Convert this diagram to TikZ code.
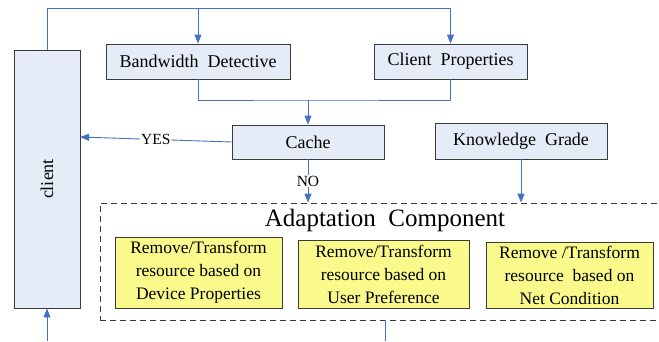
\documentclass[tikz,border=0pt]{standalone}
\usepackage{fontspec}
\setmainfont{Liberation Serif}
\newfontfamily\tnr{Liberation Serif}
\usetikzlibrary{arrows.meta}
\definecolor{lblue}{HTML}{4472C4}
\definecolor{bfill}{HTML}{E6ECF7}
\definecolor{yfill}{HTML}{FAFA8C}
\definecolor{bdr}{HTML}{3A3A3A}
\tikzset{
  bbox/.style={draw=bdr, line width=0.9pt, fill=bfill, inner sep=0pt, font=\tnr\fontsize{18}{21}\selectfont},
  ybox/.style={draw=bdr, line width=0.9pt, fill=yfill, inner sep=0pt, align=center, font=\tnr\fontsize{17.5}{23}\selectfont},
  conn/.style={draw=lblue, line width=0.9pt},
  arr/.style={conn, -{Triangle[length=9pt,width=7pt]}},
  lbl/.style={fill=white, inner sep=1pt, font=\tnr\fontsize{15.5}{17}\selectfont}
}
\begin{document}
\begin{tikzpicture}[x=1pt,y=-1pt]
\useasboundingbox (0,0) rectangle (659,341);
% nodes
\node[bbox, minimum width=66pt, minimum height=258pt] (client) at (47,179) {};
\node[rotate=90, font=\tnr\fontsize{18}{21}\selectfont] (clientlbl) at (47,179) {client};
\node[bbox, minimum width=184pt, minimum height=35pt] (bw) at (198,61.5) {Bandwidth\ \ Detective};
\node[bbox, minimum width=153pt, minimum height=35pt] (cp) at (450.5,61.5) {Client\ \ Properties};
\node[bbox, minimum width=152pt, minimum height=34pt] (cache) at (308,142) {Cache};
\node[bbox, minimum width=172pt, minimum height=36pt] (kg) at (521,141) {Knowledge\ \ Grade};
\node[draw=bdr, line width=0.8pt, dash pattern=on 6pt off 4pt, minimum width=565pt, minimum height=117pt, inner sep=0pt] (ad) at (382.5,261.5) {};
\node[font=\tnr\fontsize{25}{28}\selectfont] (adt) at (385,220) {Adaptation\ \ Component};
\node[ybox, minimum width=167pt, minimum height=71pt] (y1) at (198.5,272.5) {Remove/Transform\\resource based on\\Device Properties};
\node[ybox, minimum width=171pt, minimum height=68pt] (y2) at (383.5,274) {Remove/Transform\\resource based on\\User Preference};
\node[ybox, minimum width=167pt, minimum height=66pt] (y3) at (569.5,275) {Remove /Transform\\resource\ \ based on\\Net Condition};
% coordinates
\coordinate (topl) at (47,8);
\coordinate (merge) at (308,100);
\coordinate (yesend) at (80,137);
\coordinate (bot1) at (47,341);
\coordinate (bot2) at (385,341);
\coordinate (adbot) at (385,320);
% connectors
\draw[arr] (client.north) -- (topl) -| (cp.north);
\draw[arr] (bw.north |- topl) -- (bw.north);
\draw[conn] (bw.south) |- (merge) -| (cp.south);
\draw[arr] (merge) -- (cache.north);
\draw[arr] (cache.west) -- node[lbl, pos=0.5] {YES} (yesend);
\draw[arr] (cache.south) -- node[lbl, pos=0.5] {NO} (cache.south |- ad.north);
\draw[arr] (kg.south) -- (kg.south |- ad.north);
\draw[arr] (bot1) -- (client.south);
\draw[conn] (adbot) -- (bot2);
\end{tikzpicture}
\end{document}
